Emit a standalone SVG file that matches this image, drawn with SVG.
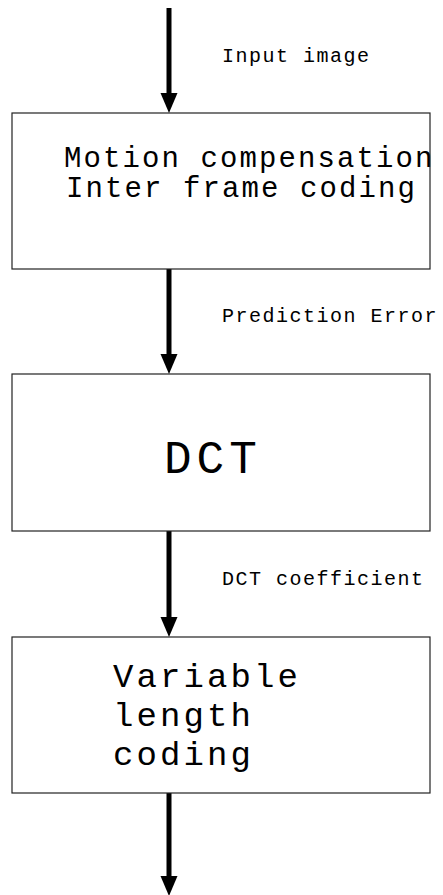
<svg xmlns="http://www.w3.org/2000/svg" width="443" height="895" viewBox="0 0 443 895">
  <style>
    .box { fill: #ffffff; stroke: #222222; stroke-width: 1.2; }
    .flow { stroke: #000000; stroke-width: 5; fill: none; marker-end: url(#head); }
    .lbl { font-family: "Courier New", "Liberation Mono", monospace; font-size: 20px; letter-spacing: 1.5px; fill: #000000; }
    .txt { font-family: "Courier New", "Liberation Mono", monospace; fill: #000000; }
  </style>
  <defs>
    <!-- solid triangular head, drawn past the end of the shaft -->
    <marker id="head" markerUnits="userSpaceOnUse" markerWidth="20" markerHeight="17" refX="0" refY="8.5" orient="auto" overflow="visible">
      <path d="M0,0 L20,8.5 L0,17 Z" fill="#000000"/>
    </marker>
  </defs>
  <rect width="443" height="895" fill="#ffffff"/>

  <g id="connectors">
    <line class="flow" x1="169" y1="8" x2="169" y2="93"/>
    <line class="flow" x1="169" y1="269" x2="169" y2="354"/>
    <line class="flow" x1="169" y1="531" x2="169" y2="617"/>
    <line class="flow" x1="169" y1="793" x2="169" y2="876"/>
    <text class="lbl" x="222" y="62">Input image</text>
    <text class="lbl" x="222" y="322">Prediction Error</text>
    <text class="lbl" x="222" y="585">DCT coefficient</text>
  </g>

  <g id="motion-compensation">
    <rect class="box" x="12" y="113" width="418" height="156"/>
    <text class="txt" font-size="29" letter-spacing="2.1" x="64" y="167">Motion compensation</text>
    <text class="txt" font-size="29" letter-spacing="2.1" x="66" y="197">Inter frame coding</text>
  </g>

  <g id="dct">
    <rect class="box" x="12" y="374" width="418" height="157"/>
    <text class="txt" font-size="46" letter-spacing="5" x="164" y="473">DCT</text>
  </g>

  <g id="variable-length-coding">
    <rect class="box" x="12" y="637" width="418" height="156"/>
    <text class="txt" font-size="34" letter-spacing="3.1" x="113" y="687">Variable</text>
    <text class="txt" font-size="34" letter-spacing="3.1" x="113" y="726">length</text>
    <text class="txt" font-size="34" letter-spacing="3.1" x="113" y="765">coding</text>
  </g>
</svg>
